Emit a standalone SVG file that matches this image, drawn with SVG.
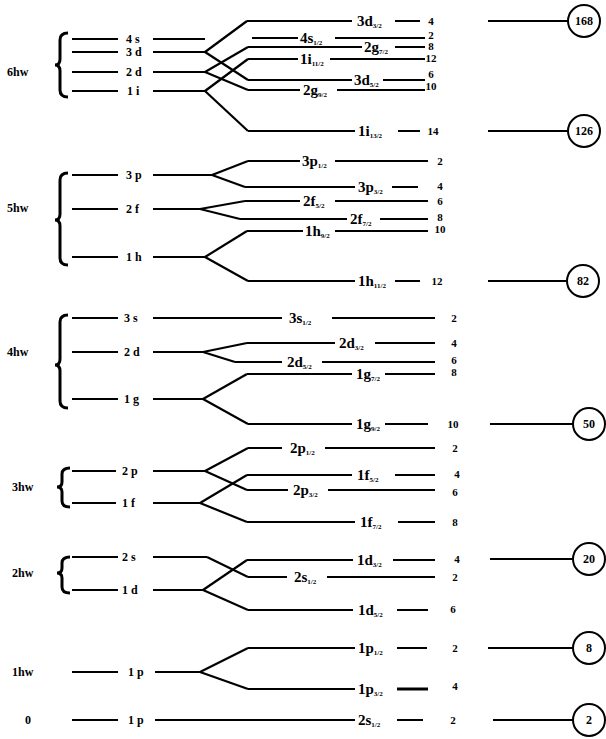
<svg xmlns="http://www.w3.org/2000/svg" width="606" height="739" viewBox="0 0 606 739">
<style>
.bg{fill:#fff}
line,path{stroke:#000;fill:none;stroke-linecap:butt}
.lv line{stroke-width:2}
.cn line{stroke-width:2.2}
.br{stroke-width:3}
text{font-family:"Liberation Serif","Times New Roman",serif;font-weight:bold;fill:#000}
.sh{font-size:12px}
.ll{font-size:12px}
.rl{font-size:15px}
.sub{font-size:7px}
.num{font-size:11px;text-anchor:middle}
.ct{font-size:12px;text-anchor:middle}
circle{fill:#fff;stroke:#000;stroke-width:2}
</style>
<rect class="bg" width="606" height="739"/>

<!-- shell labels and braces -->
<g id="shells">
<text class="sh" x="7" y="76">6hw</text>
<text class="sh" x="7" y="212">5hw</text>
<text class="sh" x="7" y="356">4hw</text>
<text class="sh" x="12" y="491">3hw</text>
<text class="sh" x="12" y="577">2hw</text>
<text class="sh" x="12" y="676">1hw</text>
<text class="sh" x="25" y="724">0</text>
<path class="br" d="M68 33 Q60 33 60 40 L60 59 Q60 65 55 65 Q60 65 60 71 L60 90 Q60 97 68 97"/>
<path class="br" d="M68 173 Q60 173 60 180 L60 214 Q60 220 55 220 Q60 220 60 226 L60 258 Q60 265 68 265"/>
<path class="br" d="M68 315 Q60 315 60 322 L60 359 Q60 365 55 365 Q60 365 60 371 L60 401 Q60 408 68 408"/>
<path class="br" d="M70 468 Q62 468 62 474 L62 482 Q62 487 57 487 Q62 487 62 492 L62 501 Q62 507 70 507"/>
<path class="br" d="M70 557 Q62 557 62 563 L62 568 Q62 573 57 573 Q62 573 62 578 L62 587 Q62 593 70 593"/>
</g>

<!-- left (oscillator) levels -->
<g id="left-6hw" class="lv">
<line x1="72" y1="39" x2="118" y2="39"/><text class="ll" x="126" y="42.5">4 s</text><line x1="153" y1="39" x2="205" y2="39"/>
<line x1="72" y1="52" x2="118" y2="52"/><text class="ll" x="126" y="56">3 d</text><line x1="153" y1="52" x2="205" y2="52"/>
<line x1="72" y1="72" x2="118" y2="72"/><text class="ll" x="126" y="76">2 d</text><line x1="153" y1="72" x2="205" y2="72"/>
<line x1="72" y1="91" x2="118" y2="91"/><text class="ll" x="127" y="95">1 i</text><line x1="153" y1="91" x2="205" y2="91"/>
</g>
<g id="left-5hw" class="lv">
<line x1="72" y1="175" x2="118" y2="175"/><text class="ll" x="126" y="179">3 p</text><line x1="153" y1="175" x2="212" y2="175"/>
<line x1="72" y1="209" x2="118" y2="209"/><text class="ll" x="126" y="213">2 f</text><line x1="153" y1="209" x2="200" y2="209"/>
<line x1="72" y1="257" x2="118" y2="257"/><text class="ll" x="126" y="261">1 h</text><line x1="153" y1="257" x2="205" y2="257"/>
</g>
<g id="left-4hw" class="lv">
<line x1="72" y1="318" x2="118" y2="318"/><text class="ll" x="124" y="322">3 s</text><line x1="153" y1="318" x2="282" y2="318"/>
<line x1="72" y1="352" x2="118" y2="352"/><text class="ll" x="124" y="356">2 d</text><line x1="153" y1="352" x2="203" y2="352"/>
<line x1="72" y1="399" x2="118" y2="399"/><text class="ll" x="124" y="403">1 g</text><line x1="153" y1="399" x2="203" y2="399"/>
</g>
<g id="left-3hw" class="lv">
<line x1="72" y1="471" x2="116" y2="471"/><text class="ll" x="122" y="475">2 p</text><line x1="153" y1="471" x2="205" y2="471"/>
<line x1="72" y1="503" x2="116" y2="503"/><text class="ll" x="122" y="507">1 f</text><line x1="153" y1="503" x2="200" y2="503"/>
</g>
<g id="left-2hw" class="lv">
<line x1="72" y1="557" x2="118" y2="557"/><text class="ll" x="122" y="561">2 s</text><line x1="153" y1="557" x2="207" y2="557"/>
<line x1="72" y1="590" x2="118" y2="590"/><text class="ll" x="122" y="594">1 d</text><line x1="153" y1="590" x2="203" y2="590"/>
</g>
<g id="left-1hw" class="lv">
<line x1="72" y1="672" x2="118" y2="672"/><text class="ll" x="128" y="676">1 p</text><line x1="155" y1="672" x2="200" y2="672"/>
</g>
<g id="left-0" class="lv">
<line x1="72" y1="720" x2="118" y2="720"/><text class="ll" x="128" y="724">1 p</text>
</g>

<!-- splitting connectors -->
<g id="connectors" class="cn">
<line x1="205" y1="52" x2="247" y2="21"/>
<line x1="205" y1="52" x2="248" y2="80"/>
<line x1="205" y1="72" x2="248" y2="47"/>
<line x1="205" y1="72" x2="248" y2="90"/>
<line x1="205" y1="91" x2="248" y2="59"/>
<line x1="205" y1="91" x2="248" y2="131"/>
<line x1="212" y1="175" x2="248" y2="161"/>
<line x1="212" y1="175" x2="245" y2="187"/>
<line x1="200" y1="209" x2="245" y2="201"/>
<line x1="200" y1="209" x2="240" y2="219"/>
<line x1="205" y1="257" x2="247" y2="231"/>
<line x1="205" y1="257" x2="248" y2="281"/>
<line x1="203" y1="352" x2="247" y2="343"/>
<line x1="203" y1="352" x2="235" y2="362"/>
<line x1="203" y1="399" x2="247" y2="374"/>
<line x1="203" y1="399" x2="248" y2="424"/>
<line x1="205" y1="471" x2="248" y2="448"/>
<line x1="205" y1="471" x2="247" y2="490"/>
<line x1="200" y1="503" x2="247" y2="475"/>
<line x1="200" y1="503" x2="247" y2="522"/>
<line x1="207" y1="557" x2="248" y2="577"/>
<line x1="203" y1="590" x2="247" y2="560"/>
<line x1="203" y1="590" x2="248" y2="610"/>
<line x1="200" y1="672" x2="248" y2="648"/>
<line x1="200" y1="672" x2="248" y2="689"/>
</g>

<!-- 6hw split levels -->
<g id="lv-3d32" class="lv"><line x1="247" y1="21" x2="352" y2="21"/><text class="rl" x="357" y="26">3d<tspan class="sub" dy="2">3/2</tspan></text><line x1="395" y1="21" x2="420" y2="21"/><text class="num" x="431" y="25">4</text></g>
<g id="lv-4s12" class="lv"><line x1="252" y1="38" x2="298" y2="38"/><text class="rl" x="300" y="43">4s<tspan class="sub" dy="2">1/2</tspan></text><line x1="335" y1="38" x2="425" y2="38"/><text class="num" x="431" y="38.5">2</text></g>
<g id="lv-2g72" class="lv"><line x1="248" y1="47" x2="362" y2="47"/><text class="rl" x="364" y="52">2g<tspan class="sub" dy="2">7/2</tspan></text><line x1="395" y1="47" x2="425" y2="47"/><text class="num" x="431" y="50">8</text></g>
<g id="lv-1i112" class="lv"><line x1="248" y1="59" x2="298" y2="59"/><text class="rl" x="300" y="64">1i<tspan class="sub" dy="2">11/2</tspan></text><line x1="330" y1="59" x2="425" y2="59"/><text class="num" x="431" y="61.5">12</text></g>
<g id="lv-3d52" class="lv"><line x1="248" y1="80" x2="352" y2="80"/><text class="rl" x="354" y="85">3d<tspan class="sub" dy="2">5/2</tspan></text><line x1="383" y1="80" x2="425" y2="80"/><text class="num" x="431" y="78">6</text></g>
<g id="lv-2g92" class="lv"><line x1="248" y1="90" x2="300" y2="90"/><text class="rl" x="303" y="95">2g<tspan class="sub" dy="2">9/2</tspan></text><line x1="337" y1="90" x2="425" y2="90"/><text class="num" x="431" y="89.5">10</text></g>
<g id="lv-1i132" class="lv"><line x1="248" y1="131" x2="355" y2="131"/><text class="rl" x="358" y="136">1i<tspan class="sub" dy="2">13/2</tspan></text><line x1="398" y1="131" x2="420" y2="131"/><text class="num" x="433" y="135">14</text></g>

<!-- 5hw split levels -->
<g id="lv-3p12" class="lv"><line x1="248" y1="161" x2="300" y2="161"/><text class="rl" x="302" y="166">3p<tspan class="sub" dy="2">1/2</tspan></text><line x1="335" y1="161" x2="428" y2="161"/><text class="num" x="440" y="165">2</text></g>
<g id="lv-3p32" class="lv"><line x1="245" y1="187" x2="355" y2="187"/><text class="rl" x="358" y="192">3p<tspan class="sub" dy="2">3/2</tspan></text><line x1="392" y1="187" x2="418" y2="187"/><text class="num" x="440" y="190">4</text></g>
<g id="lv-2f52" class="lv"><line x1="245" y1="201" x2="300" y2="201"/><text class="rl" x="303" y="206">2f<tspan class="sub" dy="2">5/2</tspan></text><line x1="335" y1="201" x2="428" y2="201"/><text class="num" x="440" y="205">6</text></g>
<g id="lv-2f72" class="lv"><line x1="240" y1="219" x2="347" y2="219"/><text class="rl" x="350" y="224">2f<tspan class="sub" dy="2">7/2</tspan></text><line x1="380" y1="219" x2="428" y2="219"/><text class="num" x="440" y="220.5">8</text></g>
<g id="lv-1h92" class="lv"><line x1="247" y1="231" x2="303" y2="231"/><text class="rl" x="305" y="236">1h<tspan class="sub" dy="2">9/2</tspan></text><line x1="335" y1="231" x2="428" y2="231"/><text class="num" x="440" y="233">10</text></g>
<g id="lv-1h112" class="lv"><line x1="248" y1="281" x2="355" y2="281"/><text class="rl" x="358" y="286">1h<tspan class="sub" dy="2">11/2</tspan></text><line x1="395" y1="281" x2="420" y2="281"/><text class="num" x="437" y="285">12</text></g>

<!-- 4hw split levels -->
<g id="lv-3s12" class="lv"><text class="rl" x="289" y="323">3s<tspan class="sub" dy="2">1/2</tspan></text><line x1="332" y1="318" x2="435" y2="318"/><text class="num" x="454" y="322">2</text></g>
<g id="lv-2d32" class="lv"><line x1="247" y1="343" x2="335" y2="343"/><text class="rl" x="339" y="348">2d<tspan class="sub" dy="2">3/2</tspan></text><line x1="375" y1="343" x2="435" y2="343"/><text class="num" x="454" y="347">4</text></g>
<g id="lv-2d52" class="lv"><line x1="235" y1="362" x2="282" y2="362"/><text class="rl" x="287" y="367">2d<tspan class="sub" dy="2">5/2</tspan></text><line x1="322" y1="362" x2="435" y2="362"/><text class="num" x="454" y="364">6</text></g>
<g id="lv-1g72" class="lv"><line x1="247" y1="374" x2="352" y2="374"/><text class="rl" x="356" y="379">1g<tspan class="sub" dy="2">7/2</tspan></text><line x1="385" y1="374" x2="435" y2="374"/><text class="num" x="454" y="375.5">8</text></g>
<g id="lv-1g92" class="lv"><line x1="248" y1="424" x2="352" y2="424"/><text class="rl" x="356" y="429">1g<tspan class="sub" dy="2">9/2</tspan></text><line x1="385" y1="424" x2="428" y2="424"/><text class="num" x="453" y="428">10</text></g>

<!-- 3hw split levels -->
<g id="lv-2p12" class="lv"><line x1="248" y1="448" x2="282" y2="448"/><text class="rl" x="290" y="453">2p<tspan class="sub" dy="2">1/2</tspan></text><line x1="325" y1="448" x2="435" y2="448"/><text class="num" x="455" y="452">2</text></g>
<g id="lv-1f52" class="lv"><line x1="247" y1="475" x2="352" y2="475"/><text class="rl" x="357" y="480">1f<tspan class="sub" dy="2">5/2</tspan></text><line x1="395" y1="475" x2="435" y2="475"/><text class="num" x="457" y="478">4</text></g>
<g id="lv-2p32" class="lv"><line x1="247" y1="490" x2="288" y2="490"/><text class="rl" x="293" y="495">2p<tspan class="sub" dy="2">3/2</tspan></text><line x1="328" y1="490" x2="435" y2="490"/><text class="num" x="455" y="496">6</text></g>
<g id="lv-1f72" class="lv"><line x1="247" y1="522" x2="355" y2="522"/><text class="rl" x="360" y="527">1f<tspan class="sub" dy="2">7/2</tspan></text><line x1="398" y1="522" x2="435" y2="522"/><text class="num" x="455" y="526">8</text></g>

<!-- 2hw split levels -->
<g id="lv-1d32" class="lv"><line x1="247" y1="560" x2="353" y2="560"/><text class="rl" x="357" y="565">1d<tspan class="sub" dy="2">3/2</tspan></text><line x1="393" y1="560" x2="435" y2="560"/><text class="num" x="457" y="563">4</text></g>
<g id="lv-2s12" class="lv"><line x1="248" y1="577" x2="287" y2="577"/><text class="rl" x="294" y="582">2s<tspan class="sub" dy="2">1/2</tspan></text><line x1="327" y1="577" x2="435" y2="577"/><text class="num" x="455" y="581">2</text></g>
<g id="lv-1d52" class="lv"><line x1="248" y1="610" x2="353" y2="610"/><text class="rl" x="358" y="615">1d<tspan class="sub" dy="2">5/2</tspan></text><line x1="397" y1="610" x2="428" y2="610"/><text class="num" x="453" y="613">6</text></g>

<!-- 1hw split levels -->
<g id="lv-1p12" class="lv"><line x1="248" y1="648" x2="355" y2="648"/><text class="rl" x="358" y="653">1p<tspan class="sub" dy="2">1/2</tspan></text><line x1="397" y1="648" x2="427" y2="648"/><text class="num" x="455" y="652">2</text></g>
<g id="lv-1p32" class="lv"><line x1="248" y1="689" x2="355" y2="689"/><text class="rl" x="358" y="694">1p<tspan class="sub" dy="2">3/2</tspan></text><line x1="397" y1="689" x2="428" y2="689" style="stroke-width:3"/><text class="num" x="455" y="690">4</text></g>

<!-- 0 level -->
<g id="lv-2s12-0" class="lv"><line x1="155" y1="720" x2="355" y2="720"/><text class="rl" x="358" y="725">2s<tspan class="sub" dy="2">1/2</tspan></text><line x1="397" y1="720" x2="423" y2="720"/><text class="num" x="453" y="724">2</text></g>

<!-- magic numbers -->
<g id="magic-168" class="lv"><line x1="488" y1="21" x2="568" y2="21"/><circle cx="584" cy="21" r="16"/><text class="ct" x="584" y="25">168</text></g>
<g id="magic-126" class="lv"><line x1="488" y1="131" x2="568" y2="131"/><circle cx="584" cy="131" r="16"/><text class="ct" x="584" y="135">126</text></g>
<g id="magic-82" class="lv"><line x1="488" y1="281" x2="567" y2="281"/><circle cx="583" cy="281" r="16"/><text class="ct" x="583" y="285">82</text></g>
<g id="magic-50" class="lv"><line x1="490" y1="424" x2="573" y2="424"/><circle cx="589" cy="424" r="16"/><text class="ct" x="589" y="428">50</text></g>
<g id="magic-20" class="lv"><line x1="490" y1="559" x2="573" y2="559"/><circle cx="589" cy="559" r="16"/><text class="ct" x="589" y="563">20</text></g>
<g id="magic-8" class="lv"><line x1="488" y1="648" x2="573" y2="648"/><circle cx="589" cy="648" r="16"/><text class="ct" x="589" y="652">8</text></g>
<g id="magic-2" class="lv"><line x1="493" y1="720" x2="573" y2="720"/><circle cx="589" cy="720" r="16"/><text class="ct" x="589" y="724">2</text></g>
</svg>
